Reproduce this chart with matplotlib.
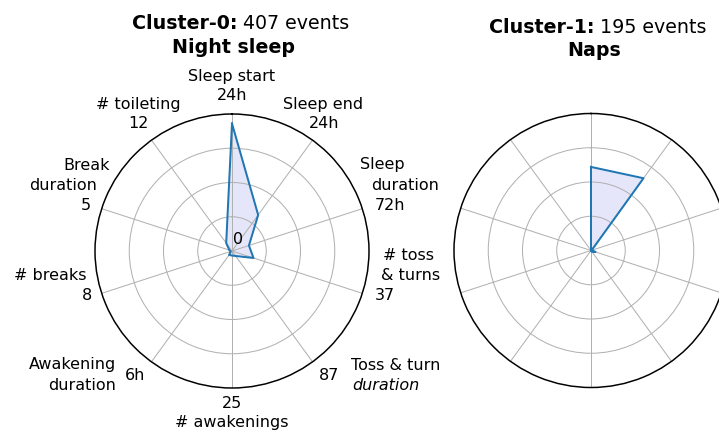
import numpy as np
import matplotlib

matplotlib.use("Agg")
import matplotlib.pyplot as plt

# one value per spoke, clockwise from the top, scaled to the outer ring
CATEGORIES = [
    "Sleep start", "Sleep end", "Sleep duration", "# toss & turns",
    "Toss & turn duration", "# awakenings", "Awakening duration",
    "# breaks", "Break duration", "# toileting",
]
MAX_LABELS = ["24h", "24h", "72h", "37", "87", "25", "6h", "8", "5", "12"]
NAME_LINES = [
    ["Sleep start"], ["Sleep end"], ["Sleep", "duration"], ["# toss", "& turns"],
    ["Toss & turn", "duration"], ["# awakenings"], ["Awakening", "duration"],
    ["# breaks"], ["Break", "duration"], ["# toileting"],
]
CLUSTER_IDS = ["Cluster-0:", "Cluster-1:"]
CLUSTER_EVENTS = [407, 195]
CLUSTER_NAMES = ["Night sleep", "Naps"]
CLUSTER_0 = [0.93, 0.325, 0.13, 0.165, 0.045, 0.033, 0.036, 0.01, 0.02, 0.072]
CLUSTER_1 = [0.61, 0.652, 0.005, 0.035, 0.01, 0.005, 0.0, 0.0, 0.0, 0.0]

# label placement, offsets in points from the centre of the first chart
NAME_POS = [
    [(0, 175, "center")],
    [(91, 147, "center")],
    [(128, 86, "left"), (139, 66, "left")],
    [(151, -4, "left"), (149, -24, "left")],
    [(119, -114, "left"), (120, -134, "left")],
    [(0, -172, "center")],
    [(-116, -114, "right"), (-116, -134, "right")],
    [(-146, -24, "right")],
    [(-122, 86, "right"), (-135, 66, "right")],
    [(-94, 147, "center")],
]
VALUE_POS = [
    (0, 155, "center"), (92, 128, "center"), (143, 46, "left"), (143, -44, "left"),
    (107, -125, "right"), (0, -152, "center"), (-107, -125, "left"),
    (-140, -44, "right"), (-141, 46, "right"), (-94, 128, "center"),
]

plt.rcParams.update({"font.family": "DejaVu Sans", "font.size": 16})

fig = plt.figure(figsize=(719 / 72, 434 / 72), dpi=72)
angles = np.arange(len(CATEGORIES)) * 2 * np.pi / len(CATEGORIES)


def _polar(rect):
    ax = fig.add_axes(rect, projection="polar")
    ax.set_theta_offset(np.pi / 2)
    ax.set_theta_direction(-1)
    ax.set_ylim(0, 1)
    ax.set_xticks(angles)
    ax.set_xticklabels([])
    ax.set_yticks([0.25, 0.5, 0.75])
    ax.set_yticklabels([])
    ax.tick_params(length=0)
    ax.grid(color="#b0b0b0", linewidth=1)
    ax.spines["polar"].set_linewidth(1.5)
    ax.spines["polar"].set_color("black")
    return ax


def _draw(ax, values):
    th = np.append(angles, angles[0])
    r = np.append(values, values[0])
    ax.fill(th, r, color="lavender", zorder=1)
    ax.plot(th, r, color="#1f77b4", linewidth=2, zorder=3)


def _title(ax, i, dx_b, dx_n, dy1, dy2, dx2):
    kw = dict(xy=(0.5, 1), xycoords="axes fraction", textcoords="offset points",
              va="baseline", fontsize=19)
    ax.annotate(CLUSTER_IDS[i], xytext=(dx_b, dy1), ha="right", fontweight="bold", **kw)
    ax.annotate(f"{CLUSTER_EVENTS[i]} events", xytext=(dx_n, dy1), ha="left", **kw)
    ax.annotate(CLUSTER_NAMES[i], xytext=(dx2, dy2), ha="center", fontweight="bold", **kw)


def _label(ax, text, pos, style="normal"):
    dx, dy, ha = pos
    ax.annotate(text, xy=(0, 0), xytext=(dx, dy), textcoords="offset points",
                ha=ha, va="center", style=style)


ax0 = _polar([95 / 719, 46 / 434, 274 / 719, 274 / 434])
ax1 = _polar([454 / 719, 46.5 / 434, 274 / 719, 274 / 434])

_draw(ax0, CLUSTER_0)
_draw(ax1, CLUSTER_1)

_title(ax0, 0, 5.5, 11, 84.7, 61.3, 2)
_title(ax1, 1, 3.5, 9, 80.5, 57.5, 3)

for k, lines in enumerate(NAME_LINES):
    for j, line in enumerate(lines):
        style = "italic" if k == 4 and j == 1 else "normal"
        _label(ax0, line, NAME_POS[k][j], style)
    _label(ax0, MAX_LABELS[k], VALUE_POS[k])
_label(ax0, "0", (6, 11, "center"))

fig.savefig("out.png", dpi=72)
